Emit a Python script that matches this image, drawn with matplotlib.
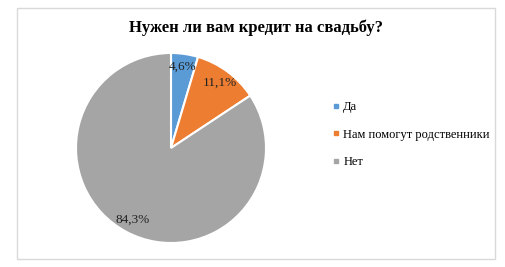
import matplotlib.pyplot as plt
from matplotlib.lines import Line2D
from matplotlib.patches import Rectangle

title = 'Нужен ли вам кредит на свадьбу?'
categories = ['Да', 'Нам помогут родственники', 'Нет']
shares = [4.6, 11.1, 84.3]
colors = ['#5B9BD5', '#ED7D31', '#A5A5A5']

plt.rcParams['font.family'] = ['Liberation Serif', 'DejaVu Serif']

W, H = 506, 267
fig = plt.figure(figsize=(W / 100, H / 100), dpi=100)

# chart frame
fig.patches.append(Rectangle((17 / W, 1 - 259 / H), 478 / W, 251 / H,
                             transform=fig.transFigure, fill=False,
                             edgecolor='#D9D9D9', linewidth=1))

ax = fig.add_axes([(171 - 95) / W, (H - 243) / H, 190 / W, 190 / H])
wedges, texts, autotexts = ax.pie(
    shares, colors=colors, startangle=90, counterclock=False,
    autopct=lambda p: f'{p:.1f}%'.replace('.', ','), pctdistance=0.86,
    wedgeprops=dict(edgecolor='white', linewidth=1.5),
    textprops=dict(fontsize=9.5, color='#222222'))
ax.set_xlim(-1, 1)
ax.set_ylim(-1, 1)
ax.set_aspect('equal')
ax.axis('off')

fig.text(256 / W, 1 - 28 / H, title, ha='center', va='center',
         fontsize=12, fontweight='bold')

handles = [Line2D([], [], marker='s', linestyle='none', markersize=3.5,
                  markerfacecolor=c, markeredgecolor=c) for c in colors]
fig.legend(handles, categories, loc='upper left',
           bbox_to_anchor=(332 / W, 1 - 101 / H), frameon=False,
           fontsize=9, handlelength=0.6, handletextpad=0.3,
           labelspacing=1.25, borderaxespad=0, borderpad=0)

fig.savefig('out.png', dpi=100)
